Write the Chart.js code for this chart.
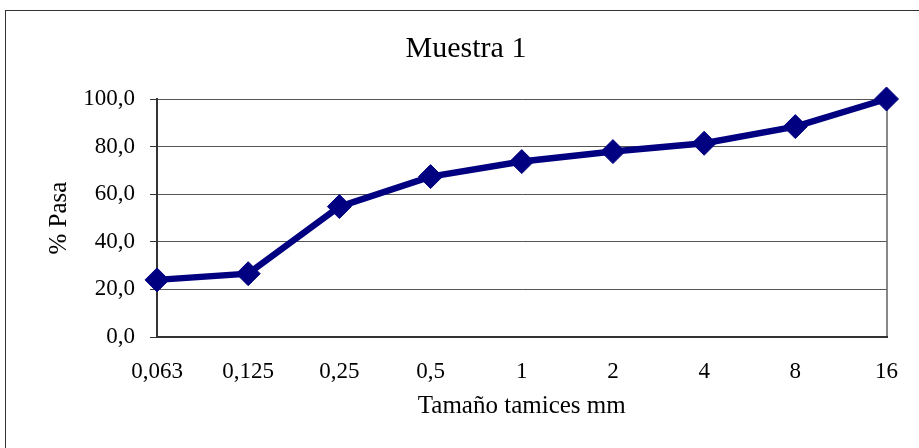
<!DOCTYPE html>
<html>
<head>
<meta charset="utf-8">
<script src="https://cdn.jsdelivr.net/npm/chart.js@4/dist/chart.umd.min.js"></script>
<style>
  html, body { margin: 0; padding: 0; background: #fff; overflow: hidden; }
  #frame { position: absolute; left: 5px; top: 10px; width: 1000px; height: 1000px; border: 1px solid #333; box-sizing: border-box; }
  #wrap { position: absolute; left: 0; top: 0; width: 919px; height: 448px; }
</style>
</head>
<body>
<div id="frame"></div>
<div id="wrap"><canvas id="c" width="919" height="448"></canvas></div>
<script>
const categories = ["0,063", "0,125", "0,25", "0,5", "1", "2", "4", "8", "16"];
const pasa = [24.0, 26.6, 54.8, 67.4, 73.7, 77.9, 81.4, 88.4, 100.0];
const yTicks = [0, 20, 40, 60, 80, 100];

const FONT = "'Liberation Serif', 'Times New Roman', serif";

new Chart(document.getElementById('c'), {
  type: 'line',
  data: {
    labels: categories,
    datasets: [{
      label: 'Muestra 1',
      data: pasa,
      borderColor: '#000080',
      backgroundColor: '#000080',
      borderWidth: 6.5,
      tension: 0,
      clip: false,
      pointStyle: 'rectRot',
      pointRadius: 12,
      pointBorderWidth: 1,
      pointBackgroundColor: '#000080',
      pointBorderColor: '#000080'
    }]
  },
  options: {
    responsive: false,
    animation: false,
    layout: { padding: { left: 44, right: 31, top: 0, bottom: 0 } },
    plugins: {
      legend: { display: false },
      tooltip: { enabled: false },
      title: {
        display: true,
        text: 'Muestra 1',
        color: '#000',
        font: { family: FONT, size: 30, weight: 'normal', lineHeight: 1.2 },
        padding: { top: 31, bottom: 32 }
      }
    },
    scales: {
      x: {
        type: 'category',
        offset: false,
        afterFit: s => { s.height = 111; },
        grid: {
          drawTicks: false,
          color: c => (c.index === categories.length - 1 ? '#888' : 'rgba(0,0,0,0)'),
          lineWidth: 2
        },
        border: { color: '#333', width: 2 },
        ticks: {
          color: '#000',
          padding: 21,
          maxRotation: 0,
          autoSkip: false,
          font: { family: FONT, size: 23 }
        },
        title: {
          display: true,
          text: 'Tamaño tamices mm',
          color: '#000',
          font: { family: FONT, size: 25 },
          padding: { top: 0, bottom: 27 }
        }
      },
      y: {
        min: 0,
        max: 100,
        afterFit: s => { s.width = 113; },
        afterBuildTicks: s => { s.ticks = yTicks.map(v => ({ value: v })); },
        grid: {
          color: '#555',
          lineWidth: 1,
          tickLength: 7,
          tickColor: '#333'
        },
        border: { color: '#333', width: 2 },
        ticks: {
          color: '#000',
          padding: 15,
          font: { family: FONT, size: 23 },
          callback: v => v.toFixed(1).replace('.', ',')
        },
        title: {
          display: true,
          text: '% Pasa',
          color: '#000',
          font: { family: FONT, size: 25 },
          padding: { top: 0, bottom: 0 }
        }
      }
    }
  }
});
</script>
</body>
</html>
